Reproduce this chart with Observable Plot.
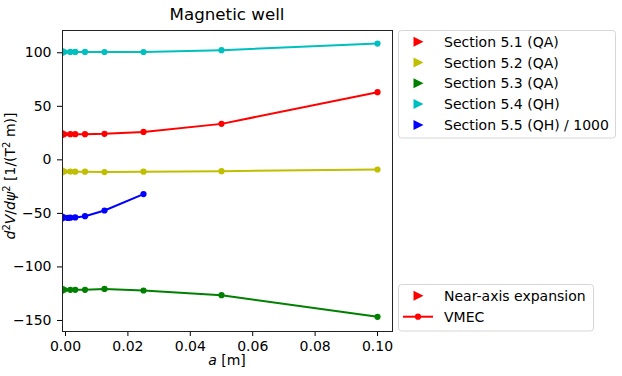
<!DOCTYPE html>
<html>
<head>
<meta charset="utf-8">
<script src="https://cdn.jsdelivr.net/npm/d3@7"></script>
<script src="https://cdn.jsdelivr.net/npm/@observablehq/plot@0.6"></script>
<style>
  html, body { margin: 0; padding: 0; background: white; }
  #chart { width: 622px; height: 376px; }
</style>
</head>
<body>
<div id="chart"></div>
<script>
// ---- data ----
const seriesNames = ["Section 5.1 (QA)", "Section 5.2 (QA)", "Section 5.3 (QA)", "Section 5.4 (QH)", "Section 5.5 (QH) / 1000"];
const seriesColors = ["#ff0000", "#bfbf00", "#008000", "#00bfbf", "#0000ff"];
const nearAxisValues = [24.0, -10.9, -121.4, 100.8, -53.9];

const aVmec = [0.0015625, 0.003125, 0.00625, 0.0125, 0.025, 0.05, 0.1];
const vmec51 = [24.0, 24.0, 24.0, 24.3, 26.1, 33.6, 63.2];
const vmec52 = [-10.9, -11.0, -11.0, -11.4, -11.0, -10.6, -9.0];
const vmec53 = [-121.4, -121.4, -121.4, -120.5, -122.0, -126.4, -146.6];
const vmec54 = [100.8, 100.8, 100.8, 100.7, 100.7, 102.4, 108.6];
const aVmec55 = [0.00078125, 0.0015625, 0.003125, 0.00625, 0.0125, 0.025];
const vmec55 = [-54.2, -54.0, -53.8, -52.6, -47.3, -32.0];

const xTicks = [0, 0.02, 0.04, 0.06, 0.08, 0.1];
const yTicks = [-150, -100, -50, 0, 50, 100];

// ---- tables built from the arrays ----
const vmecRows = [];
[vmec51, vmec52, vmec53, vmec54].forEach((vals, i) =>
  vals.forEach((v, j) => vmecRows.push({series: seriesNames[i], a: aVmec[j], v})));
vmec55.forEach((v, j) => vmecRows.push({series: seriesNames[4], a: aVmec55[j], v}));
const nearRows = nearAxisValues.map((v, i) => ({series: seriesNames[i], a: 0, v}));

// matplotlib-like right-pointing triangle marker
const triRight = {
  draw(ctx, size) {
    const s = Math.sqrt(size / Math.PI);
    ctx.moveTo(s, 0);
    ctx.lineTo(-s, -s);
    ctx.lineTo(-s, s);
    ctx.closePath();
  }
};

const svgPlot = Plot.plot({
  width: 622,
  height: 376,
  marginLeft: 62,
  marginRight: 230,
  marginTop: 30,
  marginBottom: 45,
  style: {fontFamily: "DejaVu Sans", fontSize: "14px", color: "black", background: "white", overflow: "visible"},
  x: {domain: [-0.00096, 0.1048]},
  y: {domain: [-160.3, 120.8]},
  color: {domain: seriesNames, range: seriesColors},
  marks: [
    Plot.axisX({ticks: xTicks, tickFormat: d3.format(".2f"), tickSize: 5, tickPadding: 5, label: null, stroke: "black"}),
    Plot.axisY({ticks: yTicks, tickSize: 5, tickPadding: 6, label: null, stroke: "black"}),
    Plot.line(vmecRows, {x: "a", y: "v", z: "series", stroke: "series", strokeWidth: 2, clip: true}),
    Plot.dot(vmecRows, {x: "a", y: "v", fill: "series", r: 3.1, clip: true}),
    Plot.dot(nearRows, {x: "a", y: "v", fill: "series", stroke: "series", strokeWidth: 0.5, symbol: triRight, r: 5, clip: true}),
    Plot.frame({stroke: "#222", strokeWidth: 1})
  ]
});

document.getElementById("chart").appendChild(svgPlot);

// ---- title, axis labels and legends (text, drawn with d3 into the same svg) ----
const svg = d3.select(svgPlot);
const ff = "DejaVu Sans";

svg.append("text").attr("x", 227).attr("y", 20).attr("text-anchor", "middle")
  .attr("font-family", ff).attr("font-size", 16.7).attr("fill", "black").text("Magnetic well");

const xl = svg.append("text").attr("x", 227).attr("y", 365).attr("text-anchor", "middle")
  .attr("font-family", ff).attr("font-size", 14).attr("fill", "black");
xl.append("tspan").attr("font-style", "italic").text("a");
xl.append("tspan").text(" [m]");

const yl = svg.append("text").attr("transform", "translate(15,176) rotate(-90)").attr("text-anchor", "middle")
  .attr("font-family", ff).attr("font-size", 14).attr("fill", "black");
yl.append("tspan").attr("font-style", "italic").text("d");
yl.append("tspan").attr("font-size", 10).attr("dy", -5).text("2");
yl.append("tspan").attr("font-style", "italic").attr("dy", 5).text("V");
yl.append("tspan").text("/");
yl.append("tspan").attr("font-style", "italic").text("dψ");
yl.append("tspan").attr("font-size", 10).attr("dy", -5).text("2");
yl.append("tspan").attr("dy", 5).text(" [1/(T");
yl.append("tspan").attr("font-size", 10).attr("dy", -5).text("2");
yl.append("tspan").attr("dy", 5).text(" m)]");

function triPath(cx, cy, s) {
  return `M${cx + s},${cy}L${cx - s},${cy - s}L${cx - s},${cy + s}Z`;
}

// legend 1: series colours
const lg1 = svg.append("g");
lg1.append("rect").attr("x", 398.5).attr("y", 30.5).attr("width", 217).attr("height", 107.5)
  .attr("rx", 3).attr("fill", "white").attr("fill-opacity", 0.8).attr("stroke", "#d6d6d6");
seriesNames.forEach((name, i) => {
  const cy = 41.7 + i * 20.8;
  lg1.append("path").attr("d", triPath(418.5, cy, 5)).attr("fill", seriesColors[i]);
  lg1.append("text").attr("x", 444).attr("y", cy + 5).attr("text-anchor", "start").attr("font-family", ff).attr("font-size", 14)
    .attr("fill", "black").text(name);
});

// legend 2: marker meaning
const lg2 = svg.append("g");
lg2.append("rect").attr("x", 398.5).attr("y", 284.5).attr("width", 195).attr("height", 46.5)
  .attr("rx", 3).attr("fill", "white").attr("fill-opacity", 0.8).attr("stroke", "#d6d6d6");
lg2.append("path").attr("d", triPath(418.5, 295.7, 5)).attr("fill", "#ff0000");
lg2.append("text").attr("x", 444).attr("y", 300.7).attr("text-anchor", "start").attr("font-family", ff).attr("font-size", 14)
  .attr("fill", "black").text("Near-axis expansion");
lg2.append("line").attr("x1", 403).attr("x2", 433).attr("y1", 316.7).attr("y2", 316.7)
  .attr("stroke", "#ff0000").attr("stroke-width", 2);
lg2.append("circle").attr("cx", 418).attr("cy", 316.7).attr("r", 3.1).attr("fill", "#ff0000");
lg2.append("text").attr("x", 444).attr("y", 321.7).attr("text-anchor", "start").attr("font-family", ff).attr("font-size", 14)
  .attr("fill", "black").text("VMEC");
</script>
</body>
</html>
